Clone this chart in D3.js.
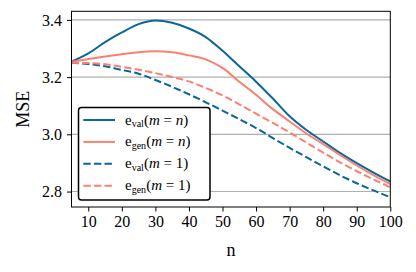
<!DOCTYPE html>
<html>
<head>
<meta charset="utf-8">
<script src="https://cdn.jsdelivr.net/npm/d3@7"></script>
<style>
  body { margin: 0; background: #fff; }
</style>
</head>
<body>
<div id="chart"></div>
<script>
// n values on the x axis
const nValues = [5, 10, 15, 20, 25, 30, 35, 40, 45, 50, 55, 60, 65, 70, 75, 80, 85, 90, 95, 100];

// MSE series
const evalMn = [3.254, 3.283, 3.322, 3.356, 3.385, 3.398, 3.390, 3.370, 3.340, 3.292, 3.238, 3.184, 3.125, 3.063, 3.015, 2.975, 2.935, 2.899, 2.866, 2.835];
const genMn  = [3.254, 3.263, 3.272, 3.280, 3.287, 3.290, 3.287, 3.276, 3.262, 3.232, 3.184, 3.138, 3.088, 3.045, 3.003, 2.966, 2.928, 2.891, 2.857, 2.826];
const eval1  = [3.250, 3.246, 3.238, 3.225, 3.212, 3.190, 3.166, 3.140, 3.112, 3.083, 3.053, 3.022, 2.987, 2.953, 2.920, 2.888, 2.857, 2.829, 2.804, 2.780];
const gen1   = [3.250, 3.249, 3.245, 3.236, 3.226, 3.214, 3.200, 3.185, 3.162, 3.136, 3.105, 3.072, 3.040, 3.007, 2.971, 2.936, 2.902, 2.871, 2.842, 2.815];

const xTicks = [10, 20, 30, 40, 50, 60, 70, 80, 90, 100];
const yTicks = [2.8, 3.0, 3.2, 3.4];

const BLUE = "#0a6797";
const SALMON = "#fa8072";
const FONT = "'Liberation Serif', 'Times New Roman', Tinos, 'DejaVu Serif', serif";

const series = [
  { sub: "val", m: "n", values: evalMn, color: BLUE, dash: null },
  { sub: "gen", m: "n", values: genMn, color: SALMON, dash: null },
  { sub: "val", m: "1", values: eval1, color: BLUE, dash: "7.4,3.2" },
  { sub: "gen", m: "1", values: gen1, color: SALMON, dash: "7.4,3.2" }
];

const width = 416, height = 272;
const margin = { left: 71.5, right: 25.7, top: 11.3, bottom: 65 };

const svg = d3.select("#chart").append("svg")
  .attr("width", width)
  .attr("height", height)
  .style("font-family", FONT);

const x = d3.scaleLinear().domain([5, 100]).range([margin.left, width - margin.right]);
const y = d3.scaleLinear().domain([2.746, 3.43]).range([height - margin.bottom, margin.top]);

// horizontal grid
svg.append("g")
  .selectAll("line")
  .data(yTicks)
  .join("line")
  .attr("x1", margin.left)
  .attr("x2", width - margin.right)
  .attr("y1", d => y(d))
  .attr("y2", d => y(d))
  .attr("stroke", "#b0b0b0")
  .attr("stroke-width", 1.1);

// lines
const line = d3.line()
  .x((d, i) => x(nValues[i]))
  .y(d => y(d))
  .curve(d3.curveMonotoneX);

svg.append("g")
  .selectAll("path")
  .data(series)
  .join("path")
  .attr("d", d => line(d.values))
  .attr("fill", "none")
  .attr("stroke", d => d.color)
  .attr("stroke-width", 2)
  .attr("stroke-dasharray", d => d.dash);

// axes
const xAxis = svg.append("g")
  .attr("transform", `translate(0, ${height - margin.bottom})`)
  .call(d3.axisBottom(x).tickValues(xTicks).tickSize(4.5).tickPadding(4));

const yAxis = svg.append("g")
  .attr("transform", `translate(${margin.left}, 0)`)
  .call(d3.axisLeft(y).tickValues(yTicks).tickFormat(d3.format(".1f")).tickSize(4.5).tickPadding(5));

[xAxis, yAxis].forEach(g => {
  g.attr("font-family", null).attr("font-size", null);
  g.select(".domain").remove();
  g.selectAll(".tick line").attr("stroke", "#000").attr("stroke-width", 1);
  g.selectAll(".tick text").attr("fill", "#000")
    .style("font-family", FONT).style("font-size", "16px");
});

// frame
svg.append("rect")
  .attr("x", margin.left)
  .attr("y", margin.top)
  .attr("width", width - margin.left - margin.right)
  .attr("height", height - margin.top - margin.bottom)
  .attr("fill", "none")
  .attr("stroke", "#000")
  .attr("stroke-width", 1);

// axis labels
svg.append("text")
  .attr("x", x(52.5))
  .attr("y", 256)
  .attr("text-anchor", "middle")
  .style("font-family", FONT)
  .style("font-size", "18px")
  .text("n");

svg.append("text")
  .attr("transform", `translate(29, ${(margin.top + height - margin.bottom) / 2}) rotate(-90)`)
  .attr("text-anchor", "middle")
  .style("font-family", FONT)
  .style("font-size", "18px")
  .text("MSE");

// legend
const legend = svg.append("g");
legend.append("rect")
  .attr("x", 78.5)
  .attr("y", 107.5)
  .attr("width", 131.5)
  .attr("height", 92.5)
  .attr("rx", 3)
  .attr("fill", "#fff")
  .attr("stroke", "#000")
  .attr("stroke-width", 1.5);

const items = legend.selectAll("g.item")
  .data(series)
  .join("g")
  .attr("class", "item")
  .attr("transform", (d, i) => `translate(0, ${120 + i * 21.9})`);

items.append("line")
  .attr("x1", 83.3)
  .attr("x2", 115)
  .attr("stroke", d => d.color)
  .attr("stroke-width", 2)
  .attr("stroke-dasharray", d => d.dash);

const label = items.append("text")
  .attr("x", 125)
  .attr("y", 4.5)
  .style("font-family", FONT)
  .style("font-size", "15px")
  .attr("fill", "#000");
label.append("tspan").text("e");
label.append("tspan").style("font-size", "10px").attr("dy", 2.5).text(d => d.sub);
label.append("tspan").attr("dy", -2.5).text("(");
label.append("tspan").attr("font-style", "italic").text("m");
label.append("tspan").text(" = ");
label.append("tspan").attr("font-style", d => d.m === "n" ? "italic" : "normal").text(d => d.m);
label.append("tspan").text(")");
</script>
</body>
</html>
